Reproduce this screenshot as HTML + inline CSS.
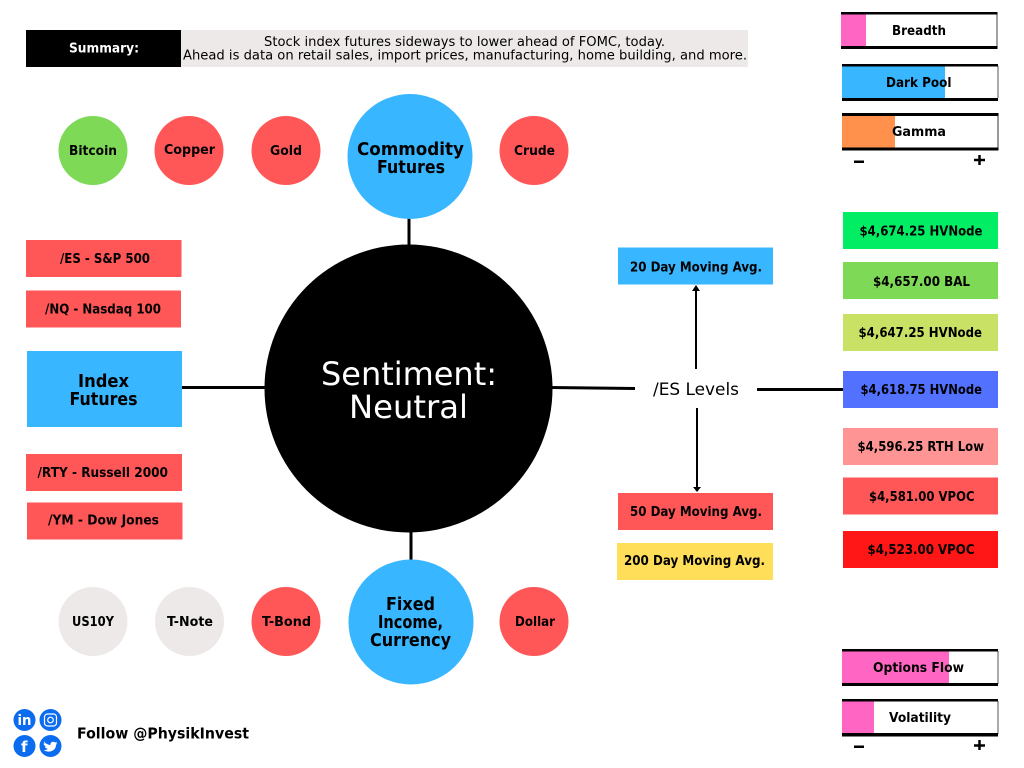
<!DOCTYPE html>
<html lang="en">
<head>
<meta charset="utf-8">
<title>Sentiment: Neutral</title>
<style>
html,body{margin:0;padding:0;background:#fff;width:1024px;height:768px;overflow:hidden}
svg{display:block}
text{font-family:"DejaVu Sans","Liberation Sans",sans-serif;fill:#000}
.b{font-weight:700;font-size:13px}
.h{font-weight:700;font-size:18px}
.t{font-size:13px}
</style>
</head>
<body>
<svg width="1024" height="768" viewBox="0 0 1024 768" xmlns="http://www.w3.org/2000/svg">
<rect width="1024" height="768" fill="#fff"/>

<!-- Summary -->
<rect x="26" y="30" width="155" height="37" fill="#000"/>
<rect x="181" y="30" width="567" height="37" fill="#eee9e9"/>
<text class="b" x="69" y="52.500" textLength="70" lengthAdjust="spacingAndGlyphs" style="fill:#fff">Summary:</text>
<text class="t" x="264" y="46" textLength="401" lengthAdjust="spacingAndGlyphs">Stock index futures sideways to lower ahead of FOMC, today.</text>
<text class="t" x="183" y="59.500" textLength="564" lengthAdjust="spacingAndGlyphs">Ahead is data on retail sales, import prices, manufacturing, home building, and more.</text>

<!-- Connectors -->
<g stroke="#000" stroke-width="3" fill="none">
<path d="M409 216V248"/>
<path d="M411 530V562"/>
<path d="M182 387.500H267"/>
<path d="M550 387.500L635 388.500"/>
<path d="M757 389.500H843"/>
</g>
<g stroke="#000" stroke-width="2" fill="none">
<path d="M696 369V290"/>
<path d="M697 408V488"/>
</g>
<path d="M692 291L696 285L700 291Z" fill="#000"/>
<path d="M693 487L697 492L701 487Z" fill="#000"/>

<!-- Main circles -->
<circle cx="408.500" cy="388.500" r="144" fill="#000"/>
<text x="321" y="385" font-size="32" textLength="176" lengthAdjust="spacingAndGlyphs" style="fill:#fff">Sentiment:</text>
<text x="349" y="418" font-size="32" textLength="119" lengthAdjust="spacingAndGlyphs" style="fill:#fff">Neutral</text>

<circle cx="410" cy="156.500" r="62.500" fill="#38b6ff"/>
<text class="h" x="357" y="155" textLength="107" lengthAdjust="spacingAndGlyphs">Commodity</text>
<text class="h" x="377" y="173" textLength="68" lengthAdjust="spacingAndGlyphs">Futures</text>

<circle cx="411" cy="622" r="62.500" fill="#38b6ff"/>
<text class="h" x="386" y="610" textLength="49" lengthAdjust="spacingAndGlyphs">Fixed</text>
<text class="h" x="378" y="628" textLength="65" lengthAdjust="spacingAndGlyphs">Income,</text>
<text class="h" x="370" y="646" textLength="81" lengthAdjust="spacingAndGlyphs">Currency</text>

<!-- Small circles -->
<circle cx="93" cy="150.500" r="34.500" fill="#7ed957"/>
<circle cx="189" cy="150.500" r="34.500" fill="#ff5757"/>
<circle cx="286" cy="150.500" r="34.500" fill="#ff5757"/>
<circle cx="534" cy="150.500" r="34.500" fill="#ff5757"/>
<circle cx="93" cy="621.500" r="34.500" fill="#eee9e9"/>
<circle cx="189.500" cy="621.500" r="34.500" fill="#eee9e9"/>
<circle cx="286" cy="621.500" r="34.500" fill="#ff5757"/>
<circle cx="534" cy="621.500" r="34.500" fill="#ff5757"/>
<text class="b" x="69" y="155" textLength="48" lengthAdjust="spacingAndGlyphs">Bitcoin</text>
<text class="b" x="164" y="154" textLength="51" lengthAdjust="spacingAndGlyphs">Copper</text>
<text class="b" x="270" y="155" textLength="32" lengthAdjust="spacingAndGlyphs">Gold</text>
<text class="b" x="514" y="155" textLength="41" lengthAdjust="spacingAndGlyphs">Crude</text>
<text class="b" x="72" y="626" textLength="42" lengthAdjust="spacingAndGlyphs">US10Y</text>
<text class="b" x="167" y="626" textLength="46" lengthAdjust="spacingAndGlyphs">T-Note</text>
<text class="b" x="262" y="626" textLength="49" lengthAdjust="spacingAndGlyphs">T-Bond</text>
<text class="b" x="515" y="626" textLength="40" lengthAdjust="spacingAndGlyphs">Dollar</text>

<!-- Index futures -->
<rect x="26" y="240" width="155.500" height="37" fill="#ff5757"/>
<rect x="26" y="290.500" width="155" height="37" fill="#ff5757"/>
<rect x="27" y="351" width="155" height="76" fill="#38b6ff"/>
<rect x="26" y="454" width="156" height="37" fill="#ff5757"/>
<rect x="27" y="502.500" width="155.500" height="37" fill="#ff5757"/>
<text class="b" x="60" y="263" textLength="90" lengthAdjust="spacingAndGlyphs">/ES - S&amp;P 500</text>
<text class="b" x="45" y="313.500" textLength="116" lengthAdjust="spacingAndGlyphs">/NQ - Nasdaq 100</text>
<text class="h" x="78" y="387" textLength="51" lengthAdjust="spacingAndGlyphs">Index</text>
<text class="h" x="69.500" y="405" textLength="68" lengthAdjust="spacingAndGlyphs">Futures</text>
<text class="b" x="37.500" y="477" textLength="130.500" lengthAdjust="spacingAndGlyphs">/RTY - Russell 2000</text>
<text class="b" x="48" y="524.500" textLength="111" lengthAdjust="spacingAndGlyphs">/YM - Dow Jones</text>

<!-- ES levels label -->
<text x="653" y="395" font-size="17" textLength="86" lengthAdjust="spacingAndGlyphs">/ES Levels</text>

<!-- Moving averages -->
<rect x="618" y="247.500" width="155" height="37" fill="#38b6ff"/>
<rect x="618" y="493" width="155" height="37" fill="#ff5757"/>
<rect x="617" y="543" width="156" height="37" fill="#ffde59"/>
<text class="b" x="630" y="271.500" textLength="132" lengthAdjust="spacingAndGlyphs">20 Day Moving Avg.</text>
<text class="b" x="630" y="516" textLength="132" lengthAdjust="spacingAndGlyphs">50 Day Moving Avg.</text>
<text class="b" x="624" y="565" textLength="141" lengthAdjust="spacingAndGlyphs">200 Day Moving Avg.</text>

<!-- Price levels -->
<rect x="843" y="212" width="155" height="37" fill="#00ed64"/>
<rect x="843" y="262" width="155" height="37" fill="#7ed957"/>
<rect x="843" y="314" width="155" height="37" fill="#c9e265"/>
<rect x="843" y="371" width="155" height="37" fill="#5271ff"/>
<rect x="843" y="428" width="155" height="37" fill="#ff9494"/>
<rect x="843" y="477.500" width="155" height="37" fill="#ff5757"/>
<rect x="843" y="531" width="155" height="37" fill="#ff1616"/>
<text class="b" x="859.500" y="235.500" textLength="123" lengthAdjust="spacingAndGlyphs">$4,674.25 HVNode</text>
<text class="b" x="873" y="286" textLength="97" lengthAdjust="spacingAndGlyphs">$4,657.00 BAL</text>
<text class="b" x="858.500" y="337" textLength="123.500" lengthAdjust="spacingAndGlyphs">$4,647.25 HVNode</text>
<text class="b" x="860.500" y="394" textLength="121.500" lengthAdjust="spacingAndGlyphs">$4,618.75 HVNode</text>
<text class="b" x="857.500" y="451" textLength="126.500" lengthAdjust="spacingAndGlyphs">$4,596.25 RTH Low</text>
<text class="b" x="869" y="501" textLength="105.500" lengthAdjust="spacingAndGlyphs">$4,581.00 VPOC</text>
<text class="b" x="867.500" y="554" textLength="107" lengthAdjust="spacingAndGlyphs">$4,523.00 VPOC</text>

<!-- Gauges top -->
<rect x="841" y="14" width="25" height="32" fill="#ff66c4"/>
<path d="M997 14V46" stroke="#444" stroke-width="1"/>
<rect x="841" y="12" width="156.500" height="2.500" fill="#000"/>
<rect x="841" y="46" width="156.500" height="3" fill="#000"/>
<text class="b" x="892" y="35" textLength="54" lengthAdjust="spacingAndGlyphs">Breadth</text>

<rect x="842" y="66" width="103" height="33" fill="#38b6ff"/>
<path d="M998 66V98" stroke="#555" stroke-width="1"/>
<rect x="842" y="64" width="156" height="2.500" fill="#000"/>
<rect x="842" y="98" width="156" height="3" fill="#000"/>
<text class="b" x="886" y="87" textLength="65.500" lengthAdjust="spacingAndGlyphs">Dark Pool</text>

<rect x="842" y="115" width="53" height="33" fill="#ff914d"/>
<path d="M998 115V148" stroke="#333" stroke-width="1"/>
<rect x="842" y="113" width="156.500" height="3" fill="#000"/>
<rect x="842" y="147.500" width="156.500" height="3" fill="#000"/>
<text class="b" x="892" y="136" textLength="54" lengthAdjust="spacingAndGlyphs">Gamma</text>

<rect x="854" y="160.500" width="10" height="2.500" fill="#000"/>
<path d="M979.500 155V165M974 160H985" stroke="#000" stroke-width="2.500"/>

<!-- Gauges bottom -->
<rect x="842" y="651" width="107" height="33" fill="#ff66c4"/>
<path d="M998 651V684" stroke="#555" stroke-width="1"/>
<rect x="842" y="649" width="156" height="2.500" fill="#000"/>
<rect x="842" y="683" width="156" height="3" fill="#000"/>
<text class="b" x="873" y="672" textLength="91" lengthAdjust="spacingAndGlyphs">Options Flow</text>

<rect x="842" y="701" width="32" height="33" fill="#ff66c4"/>
<path d="M998 701V734" stroke="#555" stroke-width="1"/>
<rect x="842" y="699" width="156" height="2.500" fill="#000"/>
<rect x="842" y="733" width="156" height="3.500" fill="#000"/>
<text class="b" x="889" y="722" textLength="62" lengthAdjust="spacingAndGlyphs">Volatility</text>

<rect x="854" y="745.500" width="10" height="2.500" fill="#000"/>
<path d="M979.500 740V750M974 745.500H985" stroke="#000" stroke-width="2.500"/>

<!-- Social -->
<circle cx="24.500" cy="720" r="11" fill="#0b6cf0"/>
<circle cx="50.500" cy="720" r="11" fill="#0b6cf0"/>
<circle cx="24.500" cy="746" r="11" fill="#0b6cf0"/>
<circle cx="50.500" cy="746" r="11" fill="#0b6cf0"/>
<text x="17.500" y="725" font-size="14" font-weight="700" textLength="14" lengthAdjust="spacingAndGlyphs" style="fill:#fff">in</text>
<rect x="44.500" y="714" width="12" height="12" rx="3" fill="none" stroke="#fff" stroke-width="1.200"/>
<circle cx="50.500" cy="720" r="2.800" fill="none" stroke="#fff" stroke-width="1.200"/>
<text x="21" y="752" font-size="15" font-weight="700" style="fill:#fff">f</text>
<path d="M44 741.500c2 2.300 4 3.300 6.500 3.500-.4-2.600 2.500-4.300 4.500-2.500l2-.7-1 1.800 1.500-.3-1.500 1.600c.1 5-5.500 9-12.500 5.200 2 .1 3.300-.3 4.500-1.200-1.700-.2-2.700-1-3.200-2.300h1.500c-1.800-.6-2.700-1.700-2.700-3.300l1.500.4c-1.300-1-1.500-2.500-.6-3.200z" fill="#fff"/>
<text x="77" y="738.500" font-size="15" font-weight="700" textLength="172" lengthAdjust="spacingAndGlyphs">Follow @PhysikInvest</text>
</svg>
</body>
</html>
